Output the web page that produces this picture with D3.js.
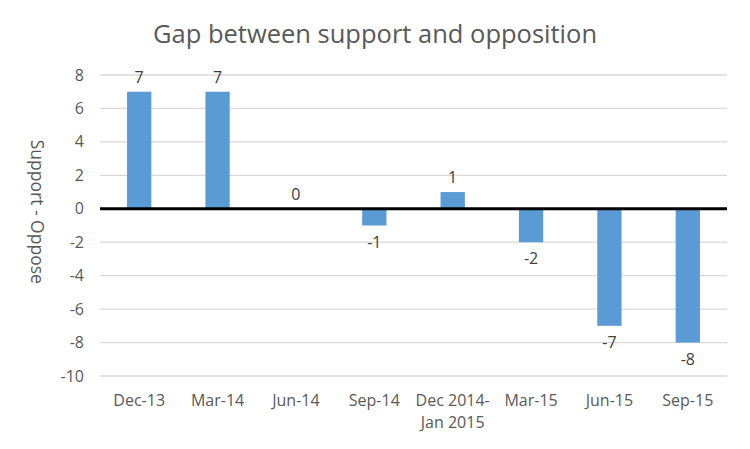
<!DOCTYPE html>
<html>
<head>
<meta charset="utf-8">
<script src="https://cdn.jsdelivr.net/npm/d3@7"></script>
<style>
  body { margin: 0; background: #fff; }
  svg { font-family: "Open Sans", "Noto Sans", sans-serif; }
</style>
</head>
<body>
<div id="chart"></div>
<script>
const categories = ["Dec-13", "Mar-14", "Jun-14", "Sep-14", "Dec 2014-\nJan 2015", "Mar-15", "Jun-15", "Sep-15"];
const gaps = [7, 7, 0, -1, 1, -2, -7, -8];
const yTicks = [8, 6, 4, 2, 0, -2, -4, -6, -8, -10];

const width = 750, height = 449;
const margin = { top: 75, right: 23, bottom: 73, left: 100 };

const svg = d3.select('#chart').append('svg')
    .attr('width', width)
    .attr('height', height);

const x = d3.scaleBand()
    .domain(categories)
    .range([margin.left, width - margin.right])
    .paddingInner(0.69)
    .paddingOuter(0.345);

const y = d3.scaleLinear()
    .domain([-10, 8])
    .range([height - margin.bottom, margin.top]);

// gridlines
svg.append('g')
    .selectAll('line')
    .data(yTicks)
  .enter().append('line')
    .attr('x1', margin.left)
    .attr('x2', width - margin.right)
    .attr('y1', d => y(d))
    .attr('y2', d => y(d))
    .style('stroke', '#d9d9d9')
    .style('stroke-width', '1.3px');

// y tick labels
svg.append('g')
    .selectAll('text')
    .data(yTicks)
  .enter().append('text')
    .attr('x', 84)
    .attr('y', d => y(d))
    .attr('dy', '0.35em')
    .attr('text-anchor', 'end')
    .attr('font-size', '16px')
    .attr('fill', '#595959')
    .text(d => d);

// bars
svg.append('g')
    .selectAll('rect')
    .data(gaps)
  .enter().append('rect')
    .attr('x', (d, i) => x(categories[i]))
    .attr('width', x.bandwidth())
    .attr('y', d => y(Math.max(0, d)))
    .attr('height', d => Math.abs(y(d) - y(0)))
    .style('fill', '#5b9bd5');

// zero line
svg.append('line')
    .attr('x1', margin.left)
    .attr('x2', width - margin.right)
    .attr('y1', y(0))
    .attr('y2', y(0))
    .style('stroke', '#000')
    .style('stroke-width', '3px');

// value labels
svg.append('g')
    .selectAll('text')
    .data(gaps)
  .enter().append('text')
    .attr('x', (d, i) => x(categories[i]) + x.bandwidth() / 2)
    .attr('y', d => d >= 0 ? y(d) - 9 : y(d) + 22)
    .attr('text-anchor', 'middle')
    .attr('font-size', '16px')
    .attr('fill', '#404040')
    .text(d => d);

// category labels
const cat = svg.append('g')
    .selectAll('text')
    .data(categories)
  .enter().append('text')
    .attr('x', d => x(d) + x.bandwidth() / 2)
    .attr('y', 406)
    .attr('text-anchor', 'middle')
    .attr('font-size', '16px')
    .attr('fill', '#595959');

cat.selectAll('tspan')
    .data(d => d.split('\n').map(s => ({ s, x: x(d) + x.bandwidth() / 2 })))
  .enter().append('tspan')
    .attr('x', d => d.x)
    .attr('dy', (d, i) => i === 0 ? 0 : 22)
    .text(d => d.s);

// axis title
svg.append('text')
    .attr('transform', `translate(31, ${y(0) + 3}) rotate(90)`)
    .attr('text-anchor', 'middle')
    .attr('font-size', '17.5px')
    .attr('fill', '#595959')
    .text('Support - Oppose');

// chart title
svg.append('text')
    .attr('x', 375)
    .attr('y', 43)
    .attr('text-anchor', 'middle')
    .attr('font-size', '25.5px')
    .attr('fill', '#595959')
    .text('Gap between support and opposition');
</script>
</body>
</html>
